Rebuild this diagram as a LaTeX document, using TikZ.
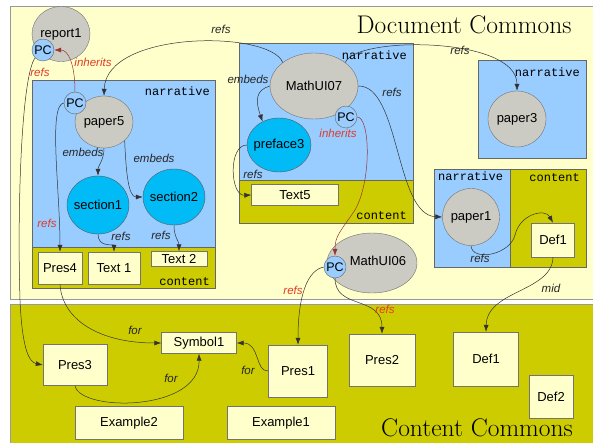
\documentclass[tikz,border=0pt]{standalone}
\usepackage{fontspec}
\setsansfont{Liberation Sans}
\setmonofont{Liberation Mono}
\usetikzlibrary{arrows.meta, shapes.geometric}

\definecolor{docyellow}{HTML}{FFFFCC}
\definecolor{contolive}{HTML}{CCCC00}
\definecolor{narrblue}{HTML}{99CCFF}
\definecolor{sectcyan}{HTML}{00BBF5}
\definecolor{objgray}{HTML}{CBCBC3}
\definecolor{inhred}{HTML}{993333}
\definecolor{lblred}{HTML}{E23A26}

\begin{document}
\begin{tikzpicture}[x=1pt, y=-1pt,
        region/.style = {
            draw=black!40,
            line width=0.6pt
        },
        narr/.style = {
            draw=black!60,
            fill=narrblue
        },
        cont/.style = {
            draw=black!60,
            fill=contolive
        },
        tag/.style = {
            font=\ttfamily\fontsize{12}{14}\selectfont,
            inner sep=0pt
        },
        commons/.style = {
            font=\rmfamily\fontsize{25.5}{30}\selectfont,
            inner sep=0pt
        },
        objshape/.style = {
            ellipse,
            draw=black!55,
            fill=objgray,
            inner sep=0pt
        },
        obj/.style = {
            objshape,
            label={[font=\sffamily\fontsize{13}{15}\selectfont]center:#1}
        },
        sect/.style = {
            ellipse,
            draw=black!65,
            fill=sectcyan,
            inner sep=0pt,
            label={[font=\sffamily\fontsize{13}{15}\selectfont]center:#1}
        },
        pc/.style = {
            circle,
            draw=black!60,
            fill=narrblue,
            inner sep=0pt,
            minimum size=22pt,
            font=\sffamily\fontsize{12.5}{14}\selectfont
        },
        box/.style = {
            rectangle,
            draw=black!55,
            fill=docyellow,
            inner sep=0pt,
            font=\sffamily\fontsize{13}{15}\selectfont
        },
        lbl/.style = {
            font=\sffamily\itshape\fontsize{11.5}{13}\selectfont,
            text=black!85,
            inner sep=0pt
        },
        rlbl/.style = {
            lbl,
            text=lblred
        },
        ref/.style = {
            -{Latex[length=7pt, width=5pt]},
            draw=black!80,
            line width=0.5pt
        },
        inh/.style = {
            -{Latex[length=7pt, width=5pt]},
            draw=inhred,
            line width=0.5pt
        }
    ]
    \useasboundingbox (0,0) rectangle (593,443);
    \fill[white] (0,0) rectangle (593,443);

    \draw[region, fill=docyellow] (10,6) rectangle (600,299);
    \draw[region, fill=contolive] (10,304) rectangle (600,450);
    \node (doc_title) [commons] at (464,25) {Document Commons};
    \node (cont_title) [commons] at (477,428) {Content Commons};

    \draw[narr] (32,80) rectangle (215,247);
    \draw[cont] (32,247) rectangle (215,288);
    \node (tag_narr1) [tag, anchor=east] at (210,91) {narrative};
    \node (tag_cont1) [tag, anchor=east] at (210,282) {content};

    \draw[narr] (239,43) rectangle (413,180);
    \draw[cont] (239,180) rectangle (413,223);
    \node (tag_narr2) [tag, anchor=east] at (407,55) {narrative};
    \node (tag_cont2) [tag, anchor=east] at (407,216) {content};

    \draw[narr] (478,60) rectangle (586,158);
    \node (tag_narr3) [tag, anchor=east] at (580,72) {narrative};

    \draw[narr] (434,169) rectangle (510,267);
    \draw[cont] (510,169) rectangle (586,267);
    \node (tag_narr4) [tag, anchor=west] at (438,176) {narrative};
    \node (tag_cont4) [tag, anchor=east] at (580,178) {content};

    \node (report1) [obj=report1, minimum width=58pt, minimum height=55pt] at (61,34) {};
    \node (pc_report1) [pc] at (43,50) {PC};
    \node (paper5) [obj=paper5, minimum width=58pt, minimum height=52pt] at (104,122) {};
    \node (pc_paper5) [pc] at (75,103) {PC};
    \node (section1) [sect=section1, minimum width=62pt, minimum height=58pt] at (98,205) {};
    \node (section2) [sect=section2, minimum width=62pt, minimum height=56pt] at (174,197) {};
    \node (pres4) [box, minimum width=44pt, minimum height=32pt] at (60,268) {Pres4};
    \node (text1) [box, minimum width=52pt, minimum height=32pt] at (114,268) {Text 1};
    \node (text2) [box, minimum width=56pt, minimum height=15pt] at (179,259) {Text 2};

    \node (mathui07) [obj=MathUI07, minimum width=88pt, minimum height=66pt] at (314,86) {};
    \node (pc_math07) [pc] at (346,117) {PC};
    \node (preface3) [sect=preface3, minimum width=64pt, minimum height=54pt] at (279,145) {};
    \node (text5) [box, minimum width=87pt, minimum height=21pt] at (295,195) {Text5};

    \node (paper3) [obj=paper3, minimum width=58pt, minimum height=56pt] at (517,119) {};
    \node (paper1) [obj=paper1, minimum width=57pt, minimum height=57pt] at (471,217) {};
    \node (def1_top) [box, minimum width=43pt, minimum height=34pt] at (553,240) {Def1};

    \node (mathui06) [objshape, minimum width=90pt, minimum height=60pt,
        label={[font=\sffamily\fontsize{13}{15}\selectfont, xshift=6pt, yshift=2pt]center:MathUI06}] at (372,263) {};
    \node (pc_math06) [pc] at (335,267) {PC};

    \node (symbol1) [box, minimum width=75pt, minimum height=21pt] at (199,343) {Symbol1};
    \node (pres3) [box, minimum width=64pt, minimum height=41pt] at (75,365) {Pres3};
    \node (example2) [box, minimum width=108pt, minimum height=33pt] at (129,423) {Example2};
    \node (pres1) [box, minimum width=59pt, minimum height=52pt] at (298,371) {Pres1};
    \node (example1) [box, minimum width=108pt, minimum height=33pt] at (281,423) {Example1};
    \node (pres2) [box, minimum width=66pt, minimum height=52pt] at (382,360) {Pres2};
    \node (def1_bot) [box, minimum width=65pt, minimum height=54pt] at (486,359) {Def1};
    \node (def2) [box, minimum width=44pt, minimum height=43pt] at (551,397) {Def2};

    \draw[inh] (pc_paper5.north) .. controls +(0,-28) and +(14,0) .. (pc_report1.east);
    \draw[ref] (pc_report1.south west) .. controls (22,75) and (17,200) .. (20,300)
        .. controls (22,345) and (28,362) .. (pres3.west);
    \draw[ref] (mathui07.north west) .. controls (270,30) and (106,30) .. (paper5.north);
    \draw[ref] (mathui07.north east) .. controls (355,36) and (517,36) .. (paper3.north);
    \draw[ref] (mathui07.east) .. controls (400,85) and (395,215) .. (paper1.west);
    \draw[ref] (mathui07.west) .. controls (256,90) and (255,100) .. (preface3.125);
    \draw[ref] (preface3.west) .. controls (228,145) and (230,196) .. (text5.west);
    \draw[inh] (pc_math07.east) .. controls (370,117) and (372,180) .. (355,210)
        .. controls (340,232) and (335,236) .. (pc_math06.north);
    \draw[ref] (pc_paper5.west) .. controls (48,105) and (60,190) .. (pres4.north);
    \draw[ref] (paper5.south) .. controls +(0,12) and +(0,-10) .. (section1.north);
    \draw[ref] (paper5.south east) .. controls (126,170) and (128,197) .. (section2.west);
    \draw[ref] (section1.south) .. controls +(0,14) and +(0,-8) .. (text1.north);
    \draw[ref] (section2.south) .. controls +(0,12) and +(0,-10) .. (text2.north);
    \draw[ref] (paper1.south) .. controls (472,262) and (510,255) .. (515,235)
        .. controls (520,214) and (545,208) .. (def1_top.north);
    \draw[ref] (def1_top.south) .. controls (552,292) and (487,290) .. (def1_bot.north);
    \draw[ref] (pc_math06.west) .. controls +(-16,3) and +(0,-50) .. (pres1.north);
    \draw[ref] (pc_math06.south) .. controls (335,310) and (382,295) .. (pres2.north);
    \draw[ref] (pres4.south) .. controls (62,320) and (100,343) .. (symbol1.west);
    \draw[ref] (pres3.south) .. controls (80,412) and (200,412) .. (symbol1.south);
    \draw[ref] (pres1.west) .. controls (255,372) and (260,343) .. (symbol1.east);

    \node (l_inh1) [rlbl] at (93,62) {inherits};
    \node (l_refs1) [rlbl] at (40,72) {refs};
    \node (l_refs2) [lbl] at (221,29) {refs};
    \node (l_refs3) [lbl] at (460,50) {refs};
    \node (l_refs4) [lbl] at (392,92) {refs};
    \node (l_emb1) [lbl] at (248,79) {embeds};
    \node (l_refs5) [lbl] at (253,174) {refs};
    \node (l_inh2) [rlbl] at (338,133) {inherits};
    \node (l_refs6) [rlbl] at (47,223) {refs};
    \node (l_emb2) [lbl] at (83,152) {embeds};
    \node (l_emb3) [lbl] at (154,158) {embeds};
    \node (l_refs7) [lbl] at (121,236) {refs};
    \node (l_refs8) [lbl] at (161,235) {refs};
    \node (l_refs9) [lbl] at (480,258) {refs};
    \node (l_mid) [lbl] at (551,288) {mid};
    \node (l_refs10) [rlbl] at (293,290) {refs};
    \node (l_refs11) [rlbl] at (385,309) {refs};
    \node (l_for1) [lbl] at (135,330) {for};
    \node (l_for2) [lbl] at (171,378) {for};
    \node (l_for3) [lbl] at (248,370) {for};
\end{tikzpicture}
\end{document}
